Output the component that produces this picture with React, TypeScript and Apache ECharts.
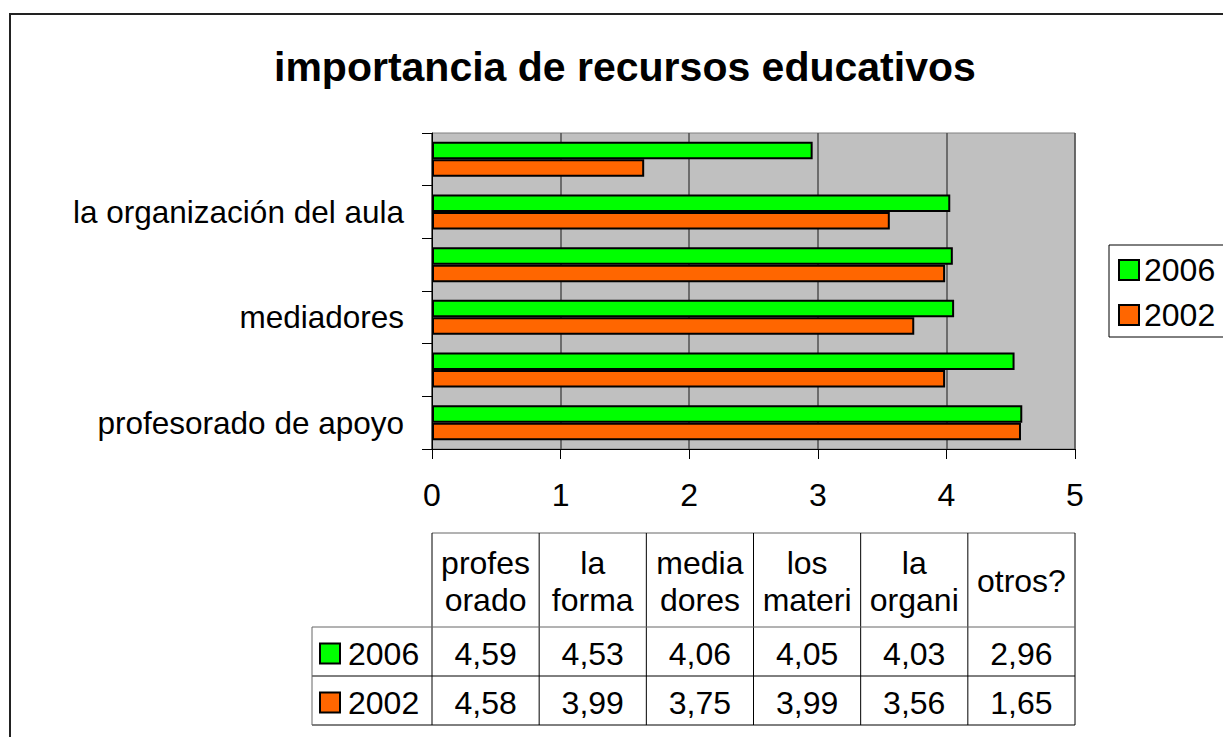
import React, { useEffect, useRef } from "react";
import * as echarts from "echarts";

const TITLE = "importancia de recursos educativos";
const categories = [
  "profesorado de apoyo",
  "la formación del profesorado",
  "mediadores",
  "los materiales",
  "la organización del aula",
  "otros?",
];
const tableHeaders = ["profes\norado", "la\nforma", "media\ndores", "los\nmateri", "la\norgani", "otros?"];
const seriesNames = ["2006", "2002"];
const values2006 = [4.59, 4.53, 4.06, 4.05, 4.03, 2.96];
const values2002 = [4.58, 3.99, 3.75, 3.99, 3.56, 1.65];
const xTicks = [0, 1, 2, 3, 4, 5];

const GREEN = "#00FF00";
const ORANGE = "#FF6600";
const FONT = "'Liberation Sans', Arial, sans-serif";

export default function App() {
  const ref = useRef<HTMLDivElement>(null);
  useEffect(() => {
    if (!ref.current) return;
    const chart = echarts.init(ref.current, null, { renderer: "svg" });
    const option: any = {
      animation: false,
      backgroundColor: "#fff",
      textStyle: { fontFamily: FONT },
      title: {
        text: TITLE,
        left: 274,
        top: 46,
        padding: 0,
        textStyle: { fontFamily: FONT, fontSize: 41, fontWeight: "bold", color: "#000", lineHeight: 41 },
      },
      legend: {
        data: seriesNames,
        orient: "vertical",
        left: 1109,
        top: 245,
        padding: [9, 40, 6, 9],
        itemGap: 13,
        itemWidth: 20,
        itemHeight: 20,
        itemTextGap: 8,
        icon: "rect",
        borderColor: "#000",
        borderWidth: 1,
        backgroundColor: "#fff",
        textStyle: { fontFamily: FONT, fontSize: 32, color: "#000", lineHeight: 32 },
      },
      grid: {
        left: 432,
        right: 1223 - 1075,
        top: 133,
        bottom: 737 - 449,
        show: true,
        backgroundColor: "#C0C0C0",
        borderColor: "#808080",
        borderWidth: 1,
      },
      xAxis: {
        type: "value",
        min: xTicks[0],
        max: xTicks[xTicks.length - 1],
        interval: 1,
        axisLine: { show: true, lineStyle: { color: "#000", width: 1 } },
        axisTick: { show: true, length: 10, lineStyle: { color: "#000" } },
        axisLabel: { fontFamily: FONT, fontSize: 32, color: "#000", margin: 30 },
        splitLine: { show: true, lineStyle: { color: "#505050", width: 1.5 } },
      },
      yAxis: {
        type: "category",
        data: categories,
        axisLine: { show: true, lineStyle: { color: "#000", width: 1 } },
        axisTick: { show: true, length: 10, interval: 0, lineStyle: { color: "#000" } },
        axisLabel: { interval: 1, fontFamily: FONT, fontSize: 31.5, color: "#000", margin: 28 },
        splitLine: { show: false },
      },
      series: [
        {
          name: seriesNames[0],
          type: "bar",
          data: values2006,
          barWidth: 17.5,
          barGap: "0%",
          itemStyle: { color: GREEN, borderColor: "#000", borderWidth: 2 },
        },
        {
          name: seriesNames[1],
          type: "bar",
          data: values2002,
          barWidth: 17.5,
          barGap: "0%",
          itemStyle: { color: ORANGE, borderColor: "#000", borderWidth: 2 },
        },
      ],
    };
    chart.setOption(option);

    // Data table below the chart, aligned to the x axis scale
    const nCols = categories.length;
    const xMax = xTicks[xTicks.length - 1];
    const colX = Array.from({ length: nCols + 1 }, (_, i) =>
      chart.convertToPixel({ xAxisIndex: 0 }, (i * xMax) / nCols) as number
    );
    const headTop = 533;
    const headBottom = 627;
    const rowH = 49;
    const keyLeft = 312;
    const lineStyle = { stroke: "#000", lineWidth: 1 };
    const els: any[] = [];
    // outer frame of the chart
    els.push({ type: "rect", shape: { x: 10, y: 14, width: 1400, height: 900 }, style: { fill: "none", stroke: "#222", lineWidth: 2 }, silent: true });
    // header row
    els.push({ type: "line", shape: { x1: colX[0], y1: headTop, x2: colX[nCols], y2: headTop }, style: { ...lineStyle, stroke: "#666" } });
    for (let i = 0; i <= nCols; i++) {
      els.push({ type: "line", shape: { x1: colX[i], y1: headTop, x2: colX[i], y2: headBottom + 2 * rowH }, style: lineStyle });
    }
    for (let r = 0; r <= 2; r++) {
      const y = headBottom + r * rowH;
      els.push({ type: "line", shape: { x1: keyLeft, y1: y, x2: colX[nCols], y2: y }, style: r === 0 ? { ...lineStyle, stroke: "#666" } : lineStyle });
    }
    els.push({ type: "line", shape: { x1: keyLeft, y1: headBottom, x2: keyLeft, y2: headBottom + 2 * rowH }, style: { ...lineStyle, stroke: "#666" } });
    tableHeaders.forEach((h, i) => {
      els.push({
        type: "text",
        x: (colX[i] + colX[i + 1]) / 2,
        y: (headTop + headBottom) / 2 + 1,
        style: { text: h, fontFamily: FONT, fontSize: 32, lineHeight: 37, fill: "#000", align: "center", verticalAlign: "middle" },
      });
    });
    const rows = [
      { name: seriesNames[0], color: GREEN, vals: values2006 },
      { name: seriesNames[1], color: ORANGE, vals: values2002 },
    ];
    rows.forEach((row, r) => {
      const cy = headBottom + r * rowH + rowH / 2 + 2;
      els.push({ type: "rect", shape: { x: 320, y: cy - 10, width: 20, height: 20 }, style: { fill: row.color, stroke: "#000", lineWidth: 2 } });
      els.push({ type: "text", x: 348, y: cy, style: { text: row.name, fontFamily: FONT, fontSize: 32, fill: "#000", align: "left", verticalAlign: "middle" } });
      row.vals.forEach((v, i) => {
        els.push({
          type: "text",
          x: (colX[i] + colX[i + 1]) / 2,
          y: cy,
          style: { text: v.toFixed(2).replace(".", ","), fontFamily: FONT, fontSize: 32, fill: "#000", align: "center", verticalAlign: "middle" },
        });
      });
    });
    chart.setOption({ graphic: { elements: els } });

    return () => chart.dispose();
  }, []);
  return <div ref={ref} style={{ position: "fixed", left: 0, top: 0, width: 1223, height: 737 }} />;
}
